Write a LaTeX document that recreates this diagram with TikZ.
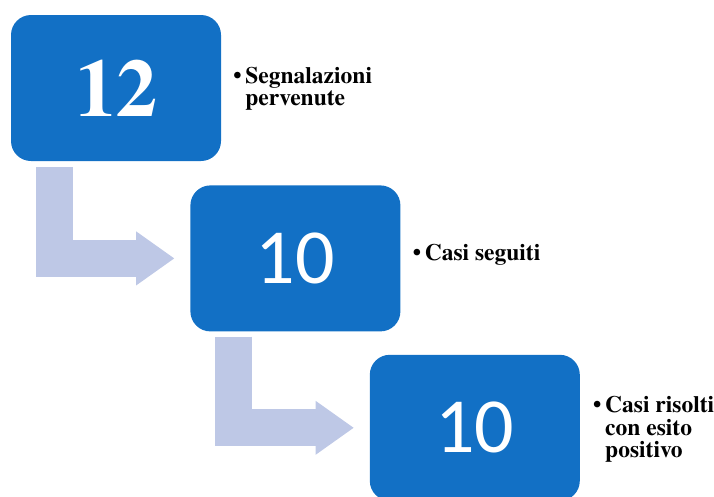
\documentclass[tikz,border=0pt]{standalone}
\usepackage{fontspec}
\setmainfont{texgyretermes}[Extension=.otf, UprightFont=*-regular, BoldFont=*-bold,
	ItalicFont=*-italic, BoldItalicFont=*-bolditalic]
\newfontfamily\cifre{Carlito}
\usetikzlibrary{arrows.meta}
\usetikzlibrary{positioning}
\definecolor{casoblu}{RGB}{18,112,197}
\definecolor{frecciablu}{RGB}{190,200,230}
\newcommand{\punto}[1]{\makebox[12pt][l]{\textbullet}\parbox[t]{120pt}{#1}}
\tikzset{
	caso/.style={rectangle, fill=casoblu, rounded corners=20pt, minimum width=210pt,
		minimum height=146pt, inner sep=0pt, text=white},
	voce/.style={anchor=base west, inner sep=0pt, font=\fontsize{23.5}{22.5}\selectfont\bfseries},
	freccia/.style={draw=frecciablu, line width=37pt,
		-{Triangle[length=38pt 0 0, width=54pt 0 0, line width=0pt 0 0, color=frecciablu]}}
}

\begin{document}
\begin{tikzpicture}[x=1pt, y=-1pt]
\useasboundingbox (0,0) rectangle (714,496);

\node[caso, font=\fontsize{82}{82}\selectfont\bfseries] (b1) at (116,88) {12};

\node[caso, font=\fontsize{78}{78}\selectfont\cifre, below right=24pt and -31pt of b1] (b2) {10};

\node[caso, font=\fontsize{78}{78}\selectfont\cifre, below right=23pt and -31pt of b2] (b3) {10};

\node[voce] (t1) at ([xshift=12pt,yshift=5pt]b1.east) {\punto{Segnalazioni\\pervenute}};
\node[voce] (t2) at ([xshift=12pt,yshift=-2pt]b2.east) {\punto{Casi seguiti}};
\node[voce] (t3) at ([xshift=13pt,yshift=15pt]b3.east) {\punto{Casi risolti\\con esito\\positivo}};

\draw [freccia] ([xshift=43.5pt,yshift=-6pt]b1.south west) |- ([xshift=-16pt]b2.west);
\draw [freccia] ([xshift=43.5pt,yshift=-5pt]b2.south west) |- ([xshift=-16pt]b3.west);

\end{tikzpicture}
\end{document}
